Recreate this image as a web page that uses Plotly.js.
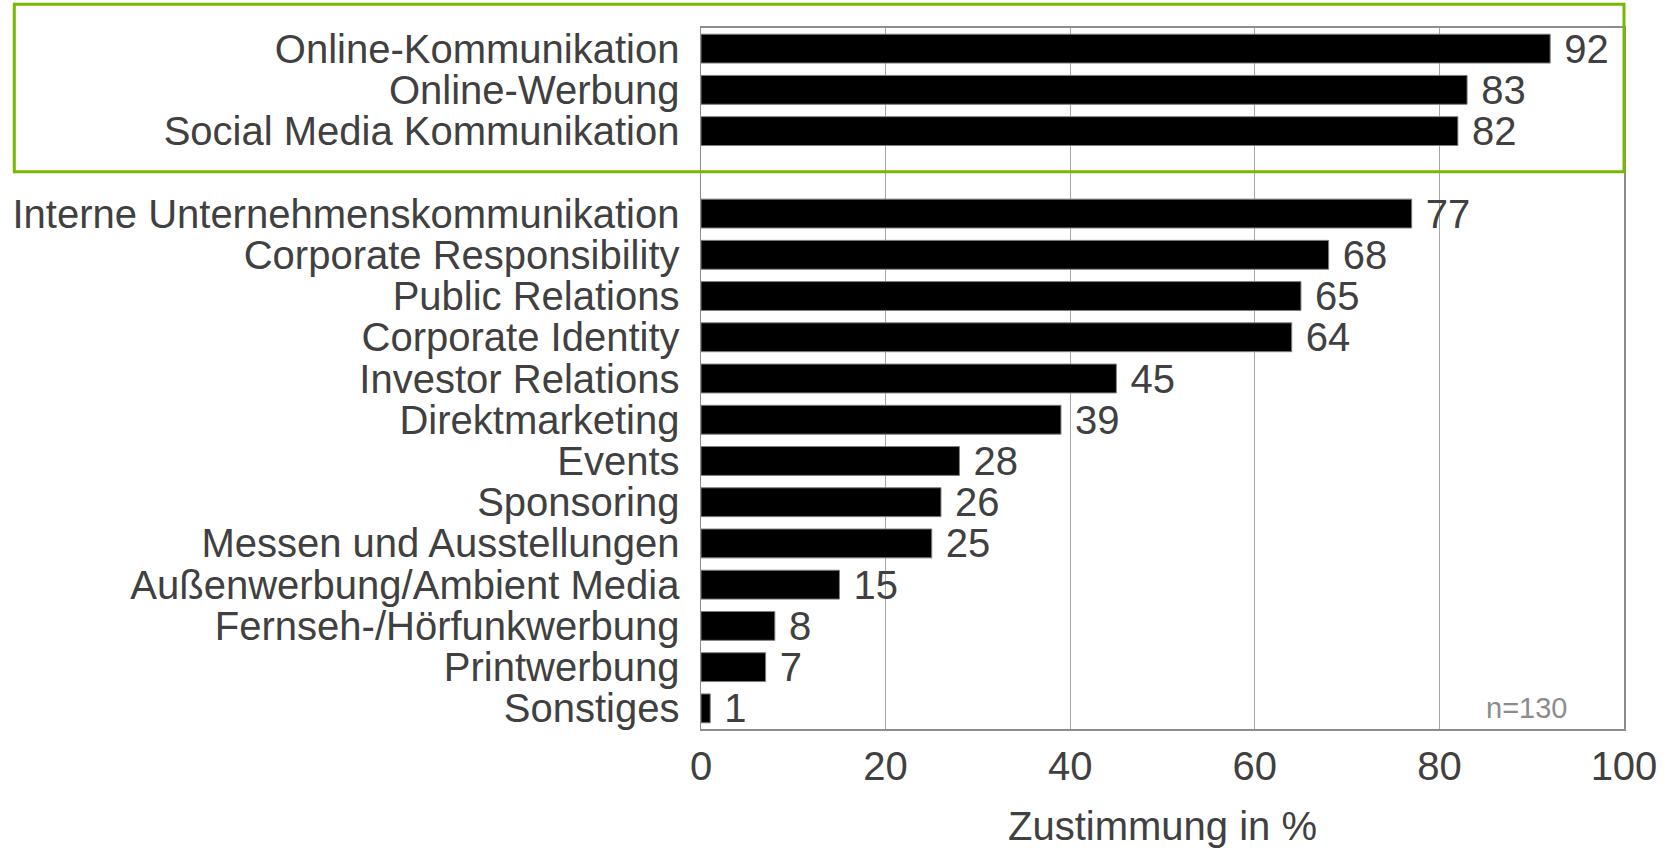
<!DOCTYPE html>
<html>
<head>
<meta charset="utf-8">
<script src="https://cdn.plot.ly/plotly-3.0.1.min.js"></script>
<style>html,body{margin:0;padding:0;background:#fff;}#chart{width:1668px;height:848px;}</style>
</head>
<body>
<div id="chart"></div>
<script>
const categories = [
  "Online-Kommunikation",
  "Online-Werbung",
  "Social Media Kommunikation",
  " ",
  "Interne Unternehmenskommunikation",
  "Corporate Responsibility",
  "Public Relations",
  "Corporate Identity",
  "Investor Relations",
  "Direktmarketing",
  "Events",
  "Sponsoring",
  "Messen und Ausstellungen",
  "Außenwerbung/Ambient Media",
  "Fernseh-/Hörfunkwerbung",
  "Printwerbung",
  "Sonstiges"
];
const values = [92, 83, 82, null, 77, 68, 65, 64, 45, 39, 28, 26, 25, 15, 8, 7, 1];
const xTicks = [0, 20, 40, 60, 80, 100];
const sampleNote = "n=130";
const xTitle = "Zustimmung in %";

const FONT = "Liberation Sans, Arial, Helvetica, sans-serif";
const TXT = "#404040";

const trace = {
  type: "bar",
  orientation: "h",
  y: categories,
  x: values,
  width: 0.7,
  marker: { color: "#000000", line: { color: "#7f7f7f", width: 1 } },
  text: values.map(v => v === null ? "" : " " + v),
  textposition: "outside",
  constraintext: "none",
  textfont: { family: FONT, size: 40, color: TXT },
  cliponaxis: false,
  hoverinfo: "skip"
};

const layout = {
  width: 1668,
  height: 848,
  margin: { l: 701, r: 44, t: 28, b: 119, pad: 0 },
  paper_bgcolor: "#ffffff",
  plot_bgcolor: "#ffffff",
  showlegend: false,
  font: { family: FONT, size: 40, color: TXT },
  bargap: 0.3,
  xaxis: {
    range: [0, 100],
    tickmode: "array",
    tickvals: xTicks,
    ticktext: xTicks.map(String),
    showgrid: true,
    gridcolor: "#a6a6a6",
    gridwidth: 1,
    zeroline: false,
    showline: true,
    linecolor: "#8c8c8c",
    linewidth: 2,
    mirror: true,
    ticks: "",
    ticklabelstandoff: 1,
    tickfont: { family: FONT, size: 40, color: TXT },
    title: { text: xTitle, font: { family: FONT, size: 40, color: TXT }, standoff: 31 },
    automargin: false,
    fixedrange: true
  },
  yaxis: {
    type: "category",
    categoryorder: "array",
    categoryarray: categories,
    tickmode: "array",
    tickvals: categories,
    ticktext: categories,
    autorange: "reversed",
    showgrid: false,
    zeroline: false,
    showline: true,
    linecolor: "#8c8c8c",
    linewidth: 1.5,
    mirror: true,
    ticks: "",
    ticklabelstandoff: 12,
    tickfont: { family: FONT, size: 40, color: TXT },
    automargin: false,
    fixedrange: true
  },
  shapes: [{
    type: "rect",
    xref: "paper", yref: "paper",
    x0: -0.744, x1: 1.0,
    y0: 0.795, y1: 1.034,
    line: { color: "#76b900", width: 3 },
    fillcolor: "rgba(0,0,0,0)",
    layer: "above"
  }],
  annotations: [{
    text: sampleNote,
    xref: "paper", yref: "paper",
    x: 0.894, y: 0.03,
    xanchor: "center", yanchor: "middle",
    showarrow: false,
    font: { family: FONT, size: 29, color: "#8c8c8c" }
  }]
};

Plotly.newPlot("chart", [trace], layout, { staticPlot: true, displayModeBar: false });
</script>
</body>
</html>
